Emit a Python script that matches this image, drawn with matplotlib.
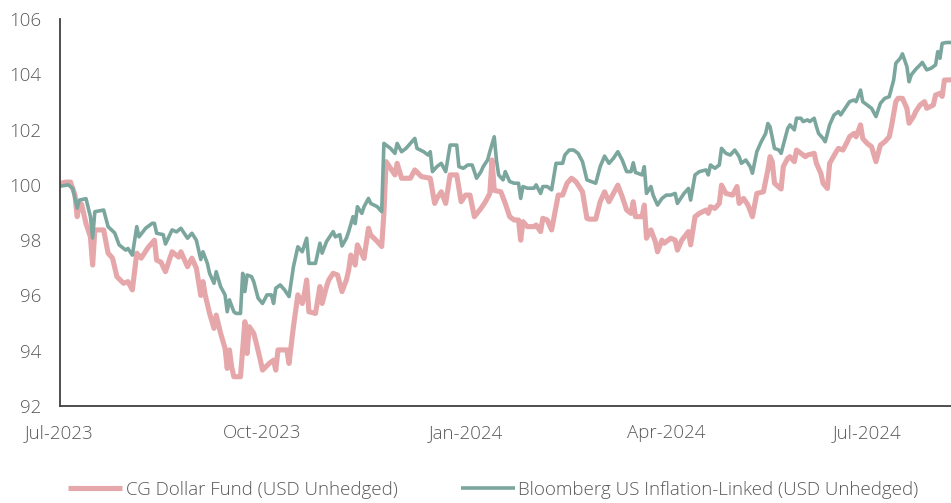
import pandas as pd
import matplotlib
matplotlib.use('Agg')
import matplotlib.pyplot as plt

plt.rcParams['font.family'] = ['Open Sans', 'DejaVu Sans']
plt.rcParams['font.weight'] = 'light'

# CG Dollar Fund (USD Unhedged)
cg_dates = [
    '2023-07-01', '2023-07-04', '2023-07-06', '2023-07-08', '2023-07-09', '2023-07-10',
    '2023-07-11', '2023-07-13', '2023-07-15', '2023-07-16', '2023-07-17', '2023-07-21',
    '2023-07-23', '2023-07-25', '2023-07-27', '2023-07-30', '2023-08-01', '2023-08-03',
    '2023-08-05', '2023-08-07', '2023-08-10', '2023-08-13', '2023-08-14', '2023-08-16',
    '2023-08-18', '2023-08-21', '2023-08-24', '2023-08-25', '2023-08-28', '2023-08-30',
    '2023-09-01', '2023-09-03', '2023-09-04', '2023-09-05', '2023-09-07', '2023-09-09',
    '2023-09-10', '2023-09-12', '2023-09-14', '2023-09-15', '2023-09-16', '2023-09-17',
    '2023-09-18', '2023-09-21', '2023-09-23', '2023-09-24', '2023-09-25', '2023-09-27',
    '2023-09-28', '2023-09-30', '2023-10-01', '2023-10-04', '2023-10-06', '2023-10-07',
    '2023-10-08', '2023-10-12', '2023-10-13', '2023-10-15', '2023-10-17', '2023-10-19',
    '2023-10-20', '2023-10-21', '2023-10-22', '2023-10-25', '2023-10-27', '2023-10-28',
    '2023-10-30', '2023-10-31', '2023-11-02', '2023-11-04', '2023-11-06', '2023-11-08',
    '2023-11-09', '2023-11-10', '2023-11-12', '2023-11-13', '2023-11-16', '2023-11-18',
    '2023-11-19', '2023-11-22', '2023-11-24', '2023-11-25', '2023-11-26', '2023-11-28',
    '2023-11-30', '2023-12-01', '2023-12-03', '2023-12-07', '2023-12-09', '2023-12-12',
    '2023-12-16', '2023-12-18', '2023-12-19', '2023-12-21', '2023-12-23', '2023-12-25',
    '2023-12-28', '2023-12-30', '2024-01-01', '2024-01-03', '2024-01-05', '2024-01-08',
    '2024-01-10', '2024-01-12', '2024-01-13', '2024-01-14', '2024-01-17', '2024-01-19',
    '2024-01-21', '2024-01-23', '2024-01-25', '2024-01-26', '2024-01-27', '2024-01-29',
    '2024-02-01', '2024-02-02', '2024-02-04', '2024-02-05', '2024-02-07', '2024-02-09',
    '2024-02-11', '2024-02-12', '2024-02-14', '2024-02-16', '2024-02-18', '2024-02-20',
    '2024-02-23', '2024-02-25', '2024-02-26', '2024-02-29', '2024-03-02', '2024-03-04',
    '2024-03-06', '2024-03-10', '2024-03-12', '2024-03-14', '2024-03-16', '2024-03-17',
    '2024-03-18', '2024-03-21', '2024-03-22', '2024-03-23', '2024-03-25', '2024-03-27',
    '2024-03-28', '2024-03-30', '2024-03-31', '2024-04-03', '2024-04-05', '2024-04-06',
    '2024-04-08', '2024-04-11', '2024-04-12', '2024-04-14', '2024-04-16', '2024-04-19',
    '2024-04-20', '2024-04-21', '2024-04-23', '2024-04-25', '2024-04-26', '2024-04-28',
    '2024-05-01', '2024-05-03', '2024-05-04', '2024-05-06', '2024-05-08', '2024-05-10',
    '2024-05-12', '2024-05-15', '2024-05-17', '2024-05-18', '2024-05-19', '2024-05-20',
    '2024-05-23', '2024-05-24', '2024-05-26', '2024-05-27', '2024-05-29', '2024-05-30',
    '2024-06-01', '2024-06-03', '2024-06-04', '2024-06-07', '2024-06-08', '2024-06-10',
    '2024-06-11', '2024-06-13', '2024-06-14', '2024-06-17', '2024-06-18', '2024-06-20',
    '2024-06-22', '2024-06-23', '2024-06-25', '2024-06-26', '2024-06-28', '2024-06-29',
    '2024-07-01', '2024-07-03', '2024-07-05', '2024-07-07', '2024-07-09', '2024-07-11',
    '2024-07-12', '2024-07-14', '2024-07-15', '2024-07-17', '2024-07-19', '2024-07-20',
    '2024-07-22', '2024-07-23', '2024-07-25', '2024-07-27', '2024-07-28', '2024-07-31',
    '2024-08-01', '2024-08-03', '2024-08-04', '2024-08-05', '2024-08-08',
]
cg_values = [
    100.05, 100.10, 100.10, 99.63, 98.85, 99.34,
    99.30, 98.60, 98.12, 97.10, 98.37, 98.37,
    97.53, 97.35, 96.68, 96.44, 96.50, 96.20,
    97.53, 97.35, 97.72, 98.00, 97.28, 97.20,
    96.86, 97.58, 97.39, 97.58, 97.04, 97.35,
    96.99, 96.00, 96.50, 96.02, 95.35, 94.81,
    95.29, 94.63, 94.09, 93.36, 94.03, 93.42,
    93.06, 93.06, 95.05, 93.90, 94.87, 94.63,
    94.33, 93.66, 93.30, 93.54, 93.66, 93.30,
    94.03, 94.03, 93.54, 94.87, 96.02, 95.71,
    96.08, 96.56, 95.41, 95.35, 96.32, 95.71,
    96.32, 96.56, 96.80, 96.74, 96.14, 96.56,
    96.90, 97.46, 97.10, 97.83, 97.34, 98.43,
    98.19, 97.95, 97.77, 98.97, 100.84, 100.60,
    100.36, 100.78, 100.24, 100.24, 100.54, 100.30,
    100.24, 99.33, 99.51, 99.75, 99.33, 100.36,
    100.36, 99.39, 99.63, 99.63, 98.85, 99.15,
    99.39, 99.69, 100.90, 99.80, 99.75, 99.33,
    98.85, 98.73, 98.73, 98.00, 98.67, 98.49,
    98.49, 98.55, 98.31, 98.79, 98.73, 98.37,
    99.21, 99.63, 99.63, 100.06, 100.24, 100.12,
    99.75, 98.79, 98.76, 98.76, 99.39, 99.75,
    99.39, 99.99, 99.57, 99.09, 98.97, 99.39,
    98.85, 98.85, 99.27, 98.07, 98.37, 97.95,
    97.58, 98.00, 97.89, 98.07, 98.00, 97.64,
    98.00, 98.31, 97.83, 98.85, 98.97, 99.09,
    98.97, 99.21, 99.15, 99.33, 99.99, 99.69,
    99.63, 99.94, 99.33, 99.51, 99.27, 98.85,
    99.69, 99.75, 100.54, 101.02, 100.84, 100.06,
    99.85, 100.66, 100.96, 101.02, 100.84, 101.26,
    101.14, 101.02, 101.08, 101.14, 100.78, 100.42,
    100.06, 99.87, 100.78, 101.20, 101.32, 101.26,
    101.56, 101.74, 101.86, 101.74, 102.17, 101.68,
    101.50, 101.38, 100.84, 101.44, 101.56, 101.74,
    102.11, 103.01, 103.13, 103.13, 102.77, 102.23,
    102.47, 102.65, 102.89, 103.01, 102.77, 102.89,
    103.25, 103.31, 103.20, 103.79, 103.80,
]

# Bloomberg US Inflation-Linked (USD Unhedged)
bb_dates = [
    '2023-07-01', '2023-07-05', '2023-07-07', '2023-07-09', '2023-07-10', '2023-07-13',
    '2023-07-15', '2023-07-16', '2023-07-17', '2023-07-21', '2023-07-23', '2023-07-26',
    '2023-07-28', '2023-07-31', '2023-08-01', '2023-08-03', '2023-08-05', '2023-08-06',
    '2023-08-09', '2023-08-12', '2023-08-13', '2023-08-14', '2023-08-17', '2023-08-18',
    '2023-08-21', '2023-08-23', '2023-08-25', '2023-08-28', '2023-08-30', '2023-09-01',
    '2023-09-03', '2023-09-04', '2023-09-06', '2023-09-07', '2023-09-09', '2023-09-10',
    '2023-09-12', '2023-09-14', '2023-09-15', '2023-09-16', '2023-09-18', '2023-09-19',
    '2023-09-21', '2023-09-22', '2023-09-23', '2023-09-24', '2023-09-26', '2023-09-27',
    '2023-09-29', '2023-10-01', '2023-10-03', '2023-10-05', '2023-10-06', '2023-10-07',
    '2023-10-09', '2023-10-11', '2023-10-13', '2023-10-15', '2023-10-17', '2023-10-19',
    '2023-10-21', '2023-10-22', '2023-10-25', '2023-10-27', '2023-10-28', '2023-10-30',
    '2023-11-02', '2023-11-03', '2023-11-05', '2023-11-06', '2023-11-08', '2023-11-09',
    '2023-11-11', '2023-11-12', '2023-11-13', '2023-11-15', '2023-11-16', '2023-11-18',
    '2023-11-19', '2023-11-22', '2023-11-24', '2023-11-25', '2023-11-28', '2023-11-30',
    '2023-12-01', '2023-12-03', '2023-12-05', '2023-12-07', '2023-12-09', '2023-12-10',
    '2023-12-13', '2023-12-15', '2023-12-16', '2023-12-17', '2023-12-19', '2023-12-21',
    '2023-12-23', '2023-12-24', '2023-12-25', '2023-12-28', '2023-12-29', '2023-12-31',
    '2024-01-02', '2024-01-04', '2024-01-06', '2024-01-08', '2024-01-09', '2024-01-11',
    '2024-01-12', '2024-01-14', '2024-01-15', '2024-01-16', '2024-01-18', '2024-01-19',
    '2024-01-21', '2024-01-23', '2024-01-25', '2024-01-26', '2024-01-27', '2024-01-29',
    '2024-02-01', '2024-02-02', '2024-02-04', '2024-02-05', '2024-02-07', '2024-02-09',
    '2024-02-11', '2024-02-14', '2024-02-15', '2024-02-17', '2024-02-19', '2024-02-21',
    '2024-02-23', '2024-02-25', '2024-02-27', '2024-02-29', '2024-03-02', '2024-03-04',
    '2024-03-06', '2024-03-08', '2024-03-10', '2024-03-12', '2024-03-14', '2024-03-16',
    '2024-03-17', '2024-03-18', '2024-03-21', '2024-03-22', '2024-03-23', '2024-03-25',
    '2024-03-26', '2024-03-28', '2024-03-30', '2024-04-01', '2024-04-03', '2024-04-05',
    '2024-04-06', '2024-04-09', '2024-04-11', '2024-04-12', '2024-04-14', '2024-04-16',
    '2024-04-19', '2024-04-20', '2024-04-21', '2024-04-23', '2024-04-25', '2024-04-26',
    '2024-04-28', '2024-04-30', '2024-05-02', '2024-05-04', '2024-05-05', '2024-05-07',
    '2024-05-09', '2024-05-10', '2024-05-12', '2024-05-14', '2024-05-16', '2024-05-17',
    '2024-05-18', '2024-05-20', '2024-05-22', '2024-05-23', '2024-05-25', '2024-05-26',
    '2024-05-27', '2024-05-29', '2024-05-30', '2024-06-01', '2024-06-02', '2024-06-04',
    '2024-06-05', '2024-06-07', '2024-06-08', '2024-06-09', '2024-06-11', '2024-06-12',
    '2024-06-14', '2024-06-16', '2024-06-18', '2024-06-19', '2024-06-21', '2024-06-23',
    '2024-06-25', '2024-06-26', '2024-06-28', '2024-06-29', '2024-07-01', '2024-07-03',
    '2024-07-05', '2024-07-07', '2024-07-09', '2024-07-11', '2024-07-12', '2024-07-13',
    '2024-07-14', '2024-07-16', '2024-07-17', '2024-07-19', '2024-07-20', '2024-07-21',
    '2024-07-23', '2024-07-25', '2024-07-26', '2024-07-28', '2024-07-30', '2024-08-01',
    '2024-08-02', '2024-08-03', '2024-08-04', '2024-08-06', '2024-08-08',
]
bb_values = [
    99.95, 100.00, 99.87, 99.16, 99.45, 99.50,
    98.85, 98.08, 99.03, 99.09, 98.49, 98.26,
    97.83, 97.64, 97.70, 97.46, 98.49, 98.12,
    98.43, 98.61, 98.61, 98.25, 98.20, 97.86,
    98.37, 98.30, 98.43, 98.07, 98.25, 98.00,
    97.30, 97.58, 97.16, 96.80, 96.44, 96.86,
    96.32, 96.02, 95.41, 95.84, 95.41, 95.35,
    95.35, 96.80, 96.14, 96.74, 96.68, 96.50,
    95.90, 95.71, 96.02, 96.02, 95.71, 96.26,
    96.38, 96.20, 95.96, 97.04, 97.76, 97.58,
    98.07, 97.16, 97.16, 97.89, 97.53, 97.95,
    98.31, 98.12, 98.20, 97.79, 98.07, 98.30,
    98.85, 98.60, 99.21, 98.97, 99.21, 99.51,
    99.33, 99.21, 99.03, 101.50, 101.32, 101.14,
    101.50, 101.20, 101.32, 101.50, 101.68, 101.32,
    101.20, 101.08, 101.20, 100.48, 100.66, 100.78,
    100.48, 100.96, 101.44, 101.44, 100.66, 100.60,
    100.72, 100.72, 100.24, 100.48, 100.66, 100.90,
    101.20, 101.74, 100.90, 100.36, 100.18, 100.48,
    100.12, 100.06, 100.06, 99.51, 99.94, 99.88,
    99.88, 100.00, 99.69, 99.94, 99.94, 99.82,
    100.78, 100.78, 101.08, 101.26, 101.26, 101.14,
    100.84, 100.18, 100.12, 100.06, 100.66, 101.04,
    100.78, 100.96, 101.20, 100.90, 100.48, 100.48,
    100.80, 100.45, 100.36, 100.66, 99.69, 99.94,
    99.63, 99.27, 99.51, 99.63, 99.63, 99.69,
    99.33, 99.69, 99.87, 99.45, 100.36, 100.48,
    100.54, 100.36, 100.72, 100.60, 100.72, 101.32,
    101.14, 101.08, 101.26, 101.02, 100.78, 100.90,
    100.66, 100.42, 101.20, 101.56, 101.86, 102.22,
    102.10, 101.32, 101.26, 101.14, 101.74, 102.04,
    102.17, 101.99, 102.41, 102.41, 102.29, 102.35,
    102.29, 102.41, 102.11, 101.86, 101.68, 101.56,
    102.17, 102.53, 102.65, 102.53, 102.77, 103.01,
    103.07, 103.01, 103.43, 103.01, 102.89, 102.77,
    102.47, 102.95, 103.13, 103.19, 103.49, 103.79,
    104.40, 104.58, 104.74, 104.28, 103.73, 103.98,
    104.18, 104.34, 104.43, 104.16, 104.22, 104.34,
    104.82, 104.58, 105.12, 105.15, 105.15,
]

series_labels = ['CG Dollar Fund (USD Unhedged)',
                 'Bloomberg US Inflation-Linked (USD Unhedged)']
tick_dates = ['2023-07-01', '2023-10-01', '2024-01-01', '2024-04-01', '2024-07-01']
tick_labels = ['Jul-2023', 'Oct-2023', 'Jan-2024', 'Apr-2024', 'Jul-2024']
y_ticks = [92, 94, 96, 98, 100, 102, 104, 106]

PINK = '#E6A7AB'
TEAL = '#7BA69E'
TEXT = '#595959'
AXIS = '#404040'

fig = plt.figure(figsize=(9.51, 5.03), dpi=100)
ax = fig.add_axes([0.0626, 0.1928, 0.9374, 0.7694])

l1, = ax.plot(pd.to_datetime(cg_dates), cg_values, color=PINK, lw=3.7,
              solid_joinstyle='round', solid_capstyle='butt', label=series_labels[0])
l2, = ax.plot(pd.to_datetime(bb_dates), bb_values, color=TEAL, lw=2.6,
              solid_joinstyle='round', solid_capstyle='butt', label=series_labels[1])

ax.set_xlim(pd.Timestamp('2023-07-01'), pd.Timestamp('2024-08-08'))
ax.set_ylim(92, 106)
ax.set_yticks(y_ticks)
ax.set_xticks(pd.to_datetime(tick_dates))
ax.set_xticklabels(tick_labels)

for side in ['top', 'right']:
    ax.spines[side].set_visible(False)
for side in ['left', 'bottom']:
    ax.spines[side].set_color(AXIS)
    ax.spines[side].set_linewidth(1.3)

ax.tick_params(axis='both', length=0, labelsize=13.5, colors=TEXT)
ax.tick_params(axis='y', pad=13)
ax.tick_params(axis='x', pad=13)

fig.legend(handles=[l1, l2], loc='center', ncol=2, frameon=False,
           bbox_to_anchor=(493.5 / 951, 1 - 490 / 503), fontsize=13.5,
           handlelength=2.85, handletextpad=0.2, columnspacing=3.4,
           labelcolor=TEXT)

fig.savefig('out.png', dpi=100)
